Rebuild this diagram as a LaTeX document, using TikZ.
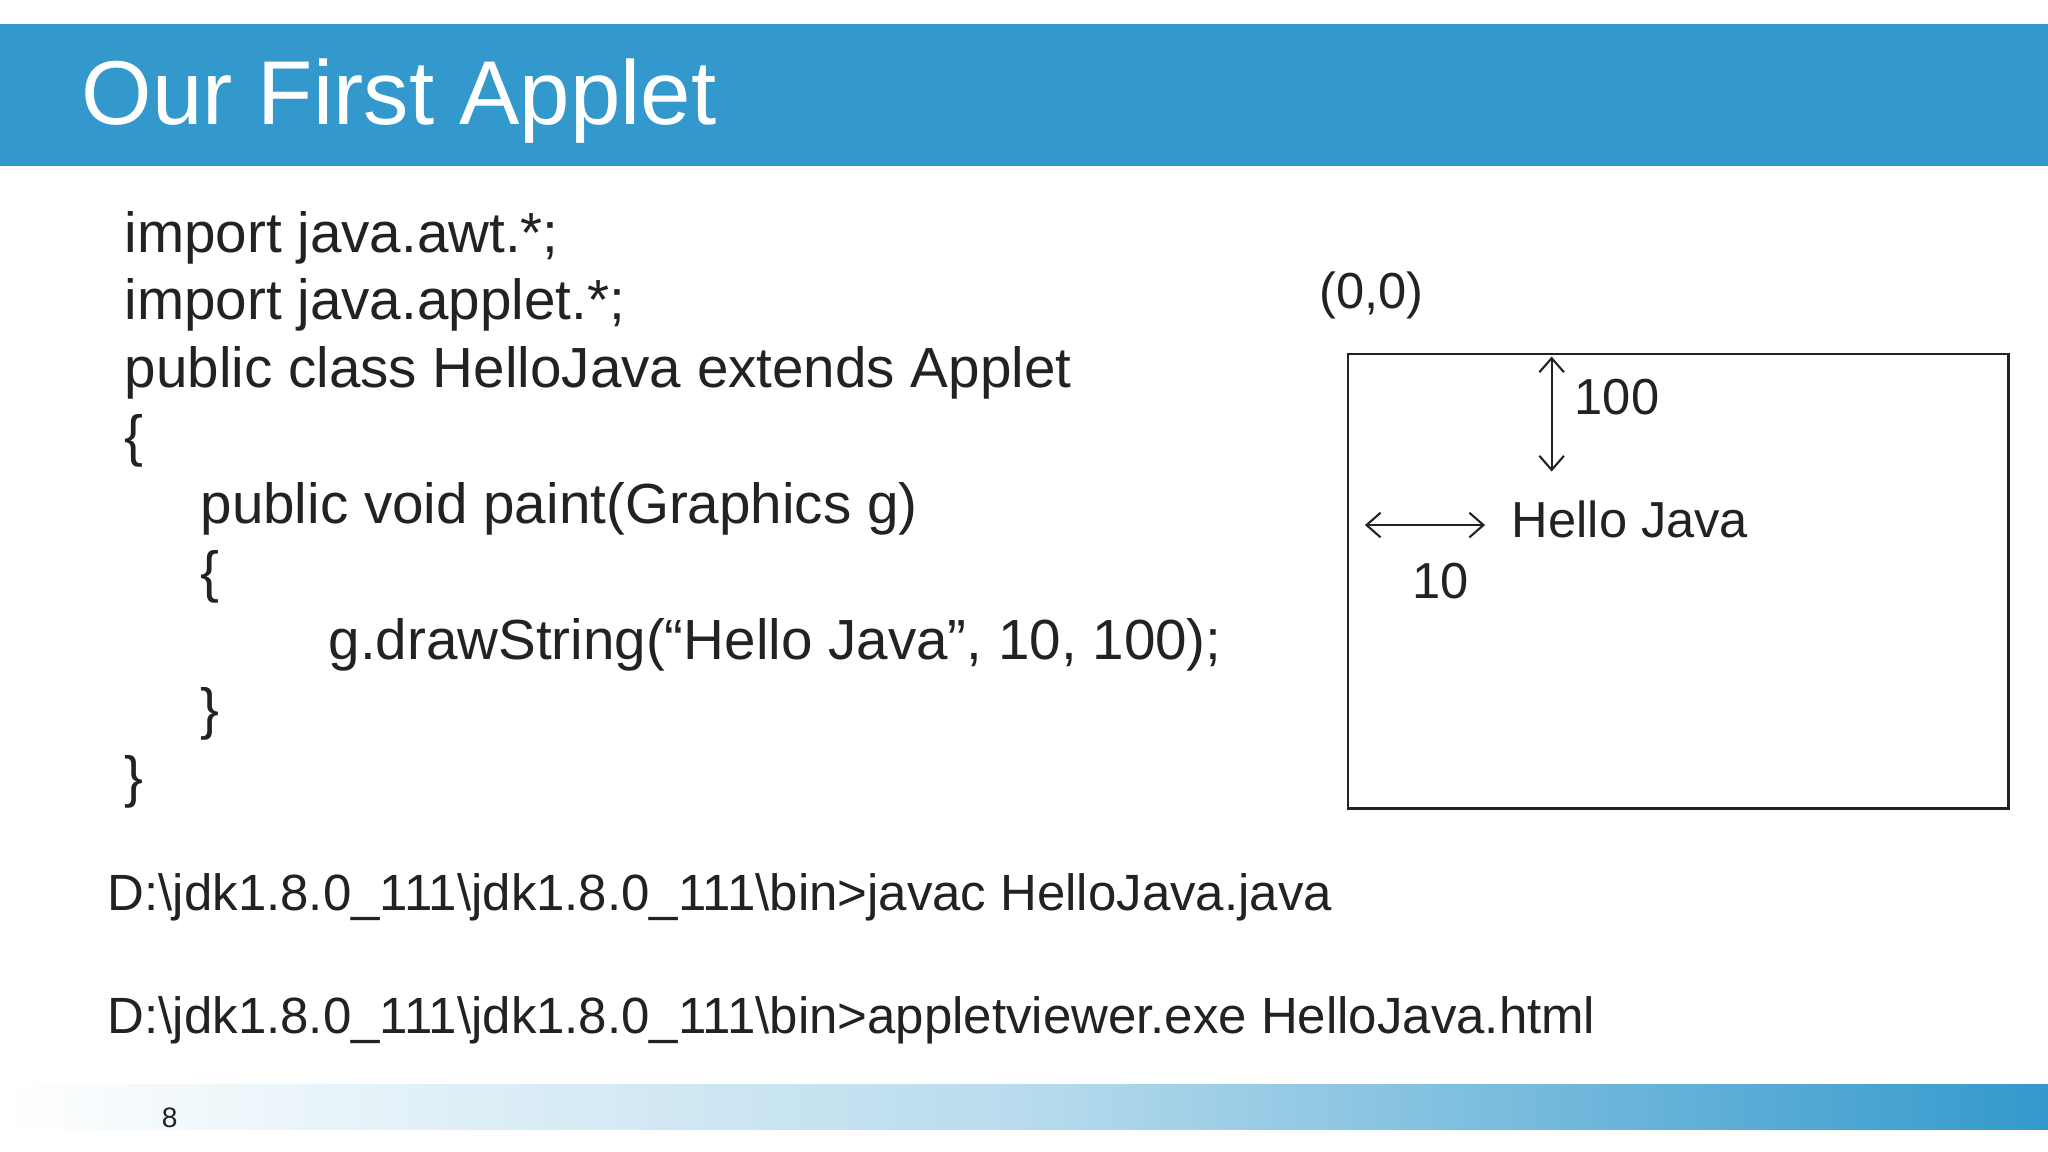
\documentclass[tikz,border=0pt]{standalone}
\usepackage{fontspec}
\setmainfont{Liberation Sans}
\usetikzlibrary{arrows.meta}
\definecolor{hdr}{HTML}{3399CC}
\definecolor{txt}{HTML}{222222}
\begin{document}
\begin{tikzpicture}[x=0.013061cm,y=-0.013061cm,
  code/.style={anchor=base west,inner sep=0pt,text=txt,font=\fontsize{16.1}{18}\selectfont},
  cmd/.style={anchor=base west,inner sep=0pt,text=txt,font=\fontsize{14.5}{18}\selectfont},
  lbl/.style={inner sep=0pt,text=txt,font=\fontsize{14.4}{18}\selectfont},
  dim/.style={{Straight Barb[length=4pt,width=7pt]}-{Straight Barb[length=4pt,width=7pt]},draw=txt,line width=0.6pt}]
\useasboundingbox (0,0) rectangle (1568,882);
\fill[white] (0,0) rectangle (1568,882);
\fill[hdr] (0,18) rectangle (1568,127);
\node[anchor=base west,inner sep=0pt,text=white,font=\fontsize{25.8}{30}\selectfont] (title) at (62,95) {Our First Applet};
\shade[left color=white,right color=hdr,middle color=hdr!35] (0,830) rectangle (1568,865);
\node[inner sep=0pt,font=\fontsize{8}{10}\selectfont,text=txt] (pg) at (130,856) {8};
\node[code] (l1) at (95,193) {import java.awt.*;};
\node[code] (l2) at (95,245) {import java.applet.*;};
\node[code] (l3) at (95,297) {public class HelloJava extends Applet};
\node[code] (l4) at (95,349) {\{};
\node[code] (l5) at (153,401) {public void paint(Graphics g)};
\node[code] (l6) at (153,453) {\{};
\node[code] (l7) at (251,505) {g.drawString(“Hello Java”, 10, 100);};
\node[code] (l8) at (153,558) {\}};
\node[code] (l9) at (95,610) {\}};
\node[cmd] (c1) at (82,697) {D:\textbackslash jdk1.8.0\_111\textbackslash jdk1.8.0\_111\textbackslash bin>javac HelloJava.java};
\node[cmd] (c2) at (82,791) {D:\textbackslash jdk1.8.0\_111\textbackslash jdk1.8.0\_111\textbackslash bin>appletviewer.exe HelloJava.html};
\draw[txt,line width=0.8pt] (1032,271) rectangle (1538,619);
\node[lbl] (origin) at (1050,226) {(0,0)};
\coordinate (vt) at (1188,273); \coordinate (vb) at (1188,361);
\draw[dim] (vt) -- (vb);
\coordinate (hl) at (1045,402); \coordinate (hr) at (1137,402);
\draw[dim] (hl) -- (hr);
\node[lbl] (h100) at (1238,304) {100};
\node[lbl] (hj) at (1248,398) {Hello Java};
\node[lbl] (h10) at (1103,445) {10};
\end{tikzpicture}
\end{document}
